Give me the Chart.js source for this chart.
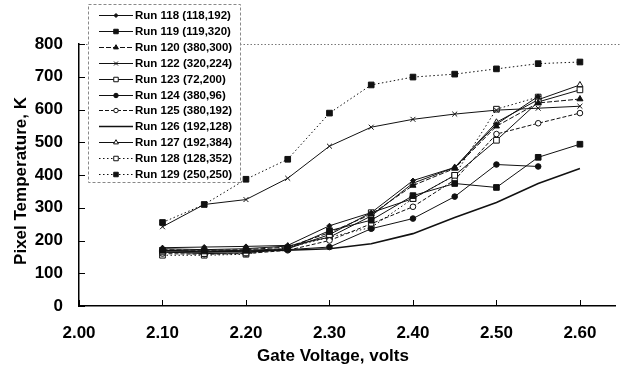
<!DOCTYPE html>
<html>
<head>
<meta charset="utf-8">
<title>Pixel Temperature vs Gate Voltage</title>
<script src="https://cdn.jsdelivr.net/npm/chart.js@4.4.1/dist/chart.umd.min.js"></script>
<style>
  html, body { margin: 0; padding: 0; background: #fff; }
  #wrap { width: 620px; height: 370px; }
</style>
</head>
<body>
<div id="wrap"><canvas id="chart" width="620" height="370"></canvas></div>
<script>
// gate voltage steps (x) and the tick labels on both axes
const voltages = [2.10, 2.15, 2.20, 2.25, 2.30, 2.35, 2.40, 2.45, 2.50, 2.55, 2.60];
const xTicks = [2.00, 2.10, 2.20, 2.30, 2.40, 2.50, 2.60];
const yTicks = [0, 100, 200, 300, 400, 500, 600, 700, 800];

const runNames = [
    'Run 118 (118,192)', 'Run 119 (119,320)', 'Run 120 (380,300)', 'Run 122 (320,224)',
    'Run 123 (72,200)', 'Run 124 (380,96)', 'Run 125 (380,192)', 'Run 126 (192,128)',
    'Run 127 (192,384)', 'Run 128 (128,352)', 'Run 129 (250,250)'
];

// pixel temperature, K (null = no point)
const run118 = [178, 180, 182, 185, 245, 285, 383, 423, 555, 640, null];
const run119 = [170, 168, 170, 175, 230, 262, 337, 374, 362, 454, 494];
const run120 = [172, 170, 172, 180, 224, 280, 368, 420, 549, 620, 632];
const run122 = [242, 310, 325, 390, 488, 546, 570, 586, 598, 604, 610];
const run123 = [165, 160, 162, 175, 218, 285, 328, 399, 506, 623, 660];
const run124 = [170, 165, 165, 172, 180, 236, 267, 334, 432, 426, null];
const run125 = [160, 158, 160, 170, 200, 251, 303, 385, 525, 558, 589];
const run126 = [165, 165, 168, 170, 175, 190, 221, 270, 316, 374, 420];
const run127 = [175, 172, 175, 183, 210, 275, 375, 423, 561, 630, 675];
const run128 = [155, 155, 158, 178, 210, 240, 328, 399, 601, 638, null];
const run129 = [255, 310, 387, 448, 589, 675, 699, 708, 724, 740, 745];

const runValues = [run118, run119, run120, run122, run123, run124, run125, run126, run127, run128, run129];

// marker / line look for each run, same order as runNames
const runStyles = [
    { pointStyle: 'rectRot', radius: 2.5, fill: true, dash: [] },
    { pointStyle: 'rect', radius: 4, fill: true, dash: [] },
    { pointStyle: 'triangle', radius: 3.5, fill: true, dash: [5, 2] },
    { pointStyle: 'crossRot', radius: 3.5, fill: true, dash: [] },
    { pointStyle: 'rect', radius: 4, fill: false, dash: [] },
    { pointStyle: 'circle', radius: 2.8, fill: true, dash: [] },
    { pointStyle: 'circle', radius: 2.8, fill: false, dash: [4, 2] },
    { pointStyle: 'circle', radius: 0, fill: true, dash: [], width: 1.6 },
    { pointStyle: 'triangle', radius: 3.5, fill: false, dash: [] },
    { pointStyle: 'rect', radius: 4, fill: false, dash: [1.5, 2.5] },
    { pointStyle: 'rect', radius: 4, fill: true, dash: [1.5, 2.5] }
];

const FONT = '"Liberation Sans", Arial, Helvetica, sans-serif';

const datasets = runNames.map((name, i) => {
    const st = runStyles[i];
    return {
        label: name,
        data: voltages.map((v, j) => ({ x: v, y: runValues[i][j] })),
        borderColor: '#111',
        backgroundColor: st.fill ? '#111' : '#fff',
        borderWidth: st.width || 1,
        borderDash: st.dash,
        pointStyle: st.pointStyle,
        pointRadius: st.radius,
        pointBorderWidth: 1,
        pointBorderColor: '#111',
        pointBackgroundColor: st.fill ? '#111' : '#fff',
        tension: 0,
        spanGaps: false
    };
});

// axis trim: inner tick marks, dotted line at 800, axis titles and the boxed legend
const decorations = {
    id: 'decorations',
    afterDraw(chart) {
        const ctx = chart.ctx;
        const xs = chart.scales.x;
        const ys = chart.scales.y;
        const area = chart.chartArea;
        ctx.save();

        // dotted line along the top of the range
        ctx.strokeStyle = '#777';
        ctx.lineWidth = 1;
        ctx.setLineDash([1.5, 2]);
        ctx.beginPath();
        ctx.moveTo(area.left, Math.round(ys.getPixelForValue(800)) + 0.5);
        ctx.lineTo(620, Math.round(ys.getPixelForValue(800)) + 0.5);
        ctx.stroke();
        ctx.setLineDash([]);

        // tick marks pointing into the plot
        ctx.strokeStyle = '#000';
        ctx.lineWidth = 1;
        ctx.beginPath();
        xTicks.forEach(v => {
            const px = Math.round(xs.getPixelForValue(v)) + 0.5;
            ctx.moveTo(px, area.bottom);
            ctx.lineTo(px, area.bottom - 6);
        });
        yTicks.forEach(v => {
            const py = Math.round(ys.getPixelForValue(v)) + 0.5;
            ctx.moveTo(area.left, py);
            ctx.lineTo(area.left + 6, py);
        });
        ctx.stroke();

        // axis titles
        ctx.fillStyle = '#000';
        ctx.font = 'bold 17px ' + FONT;
        ctx.textAlign = 'center';
        ctx.textBaseline = 'middle';
        ctx.fillText('Gate Voltage, volts', 333, 356);
        ctx.save();
        ctx.translate(21, 181);
        ctx.rotate(-Math.PI / 2);
        ctx.fillText('Pixel Temperature, K', 0, 0);
        ctx.restore();

        // legend box
        const box = { left: 88, top: 4, right: 240, bottom: 182 };
        ctx.fillStyle = '#fff';
        ctx.fillRect(box.left, box.top, box.right - box.left, box.bottom - box.top);
        ctx.strokeStyle = '#888';
        ctx.setLineDash([3, 2]);
        ctx.strokeRect(box.left + 0.5, box.top + 0.5, box.right - box.left, box.bottom - box.top);
        ctx.setLineDash([]);

        ctx.font = 'bold 11.5px ' + FONT;
        ctx.textAlign = 'left';
        chart.data.datasets.forEach((ds, i) => {
            const y = Math.round(15 + i * 15.9) + 0.5;
            ctx.strokeStyle = ds.borderColor;
            ctx.lineWidth = ds.borderWidth;
            ctx.setLineDash(ds.borderDash);
            ctx.beginPath();
            ctx.moveTo(99, y);
            ctx.lineTo(133, y);
            ctx.stroke();
            ctx.setLineDash([]);
            if (ds.pointRadius > 0) {
                ctx.fillStyle = ds.pointBackgroundColor;
                ctx.strokeStyle = ds.pointBorderColor;
                ctx.lineWidth = 1;
                Chart.helpers.drawPoint(ctx, {
                    pointStyle: ds.pointStyle,
                    radius: ds.pointRadius * 0.8,
                    rotation: 0,
                    borderWidth: 1
                }, 116, y);
            }
            ctx.fillStyle = '#000';
            ctx.fillText(ds.label, 135, y);
        });
        ctx.restore();
    }
};

new Chart(document.getElementById('chart'), {
    type: 'line',
    data: { datasets: datasets },
    options: {
        responsive: false,
        animation: false,
        layout: { padding: { left: 0, right: 0, top: 44, bottom: 0 } },
        plugins: {
            legend: { display: false },
            tooltip: { enabled: false }
        },
        scales: {
            x: {
                type: 'linear',
                min: 2.0,
                max: 2.642,
                afterBuildTicks: scale => { scale.ticks = xTicks.map(v => ({ value: v })); },
                afterFit: scale => { scale.height = 64; },
                grid: { display: false, drawTicks: false },
                border: { display: true, color: '#000', width: 1.5 },
                ticks: {
                    color: '#000',
                    font: { family: FONT, size: 17, weight: 'bold' },
                    padding: 17,
                    maxRotation: 0,
                    callback: v => Number(v).toFixed(2)
                }
            },
            y: {
                min: 0,
                max: 800,
                afterBuildTicks: scale => { scale.ticks = yTicks.map(v => ({ value: v })); },
                afterFit: scale => { scale.width = 79; },
                grid: { display: false, drawTicks: false },
                border: { display: true, color: '#000', width: 1.5 },
                ticks: {
                    color: '#000',
                    font: { family: FONT, size: 17, weight: 'bold' },
                    padding: 16
                }
            }
        }
    },
    plugins: [decorations]
});
</script>
</body>
</html>
